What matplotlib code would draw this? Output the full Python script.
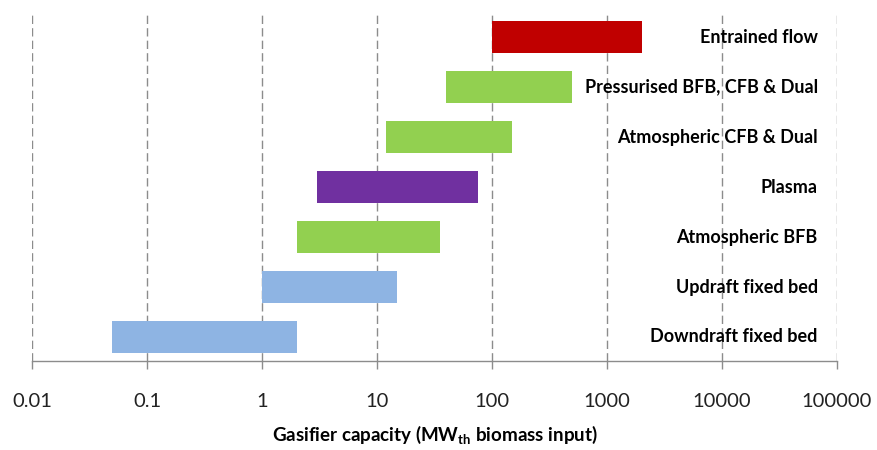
import numpy as np
import matplotlib
matplotlib.use('Agg')
import matplotlib.pyplot as plt

plt.rcParams['font.family'] = ['Lato', 'DejaVu Sans']
plt.rcParams['mathtext.fontset'] = 'custom'
plt.rcParams['mathtext.bf'] = 'Lato:bold'
plt.rcParams['mathtext.rm'] = 'Lato'

# Dados (de baixo para cima)
tecnologias = ['Downdraft fixed bed', 'Updraft fixed bed', 'Atmospheric BFB',
               'Plasma', 'Atmospheric CFB & Dual', 'Pressurised BFB, CFB & Dual',
               'Entrained flow']
cap_min = [0.05, 1, 2, 3, 12, 40, 100]
cap_max = [2, 15, 35, 75, 150, 500, 2000]
cores = ['#8EB4E3', '#8EB4E3', '#92D050', '#7030A0', '#92D050', '#92D050', '#C00000']
ticks = [0.01, 0.1, 1, 10, 100, 1000, 10000, 100000]
tick_labels = ['0.01', '0.1', '1', '10', '100', '1000', '10000', '100000']

fig = plt.figure(figsize=(8.77, 4.5), dpi=100)
ax = fig.add_axes([32/877, 89/450, (837-32)/877, (361-13)/450])

y = np.arange(len(tecnologias))
larguras = np.array(cap_max) - np.array(cap_min)
ax.barh(y, larguras, left=cap_min, height=0.64, color=cores, zorder=3)

ax.set_xscale('log')
ax.set_xlim(0.01, 100000)
ax.set_ylim(-0.48, 6.48)

# rotulos a direita, dentro do grafico
for yi, nome in zip(y, tecnologias):
    ax.text(68000, yi, nome, ha='right', va='center', fontsize=13,
            fontweight='bold', color='black', zorder=4)

ax.set_xticks(ticks)
ax.set_xticklabels(tick_labels, fontsize=14.5, color='#222222')
ax.xaxis.set_minor_locator(matplotlib.ticker.NullLocator())
ax.tick_params(axis='x', length=6, width=1, color='#8c8c8c', pad=17)
ax.set_yticks([])

ax.grid(axis='x', which='major', linestyle=(0, (6, 3)), color='#8c8c8c',
        linewidth=1, zorder=0)

for s in ['top', 'left', 'right']:
    ax.spines[s].set_visible(False)
ax.spines['bottom'].set_color('#8c8c8c')
ax.spines['bottom'].set_linewidth(1)

ax.set_xlabel(r'Gasifier capacity (MW$_\mathbf{th}$ biomass input)',
              fontsize=13.5, fontweight='bold', labelpad=10)

fig.savefig('out.png', dpi=100)
